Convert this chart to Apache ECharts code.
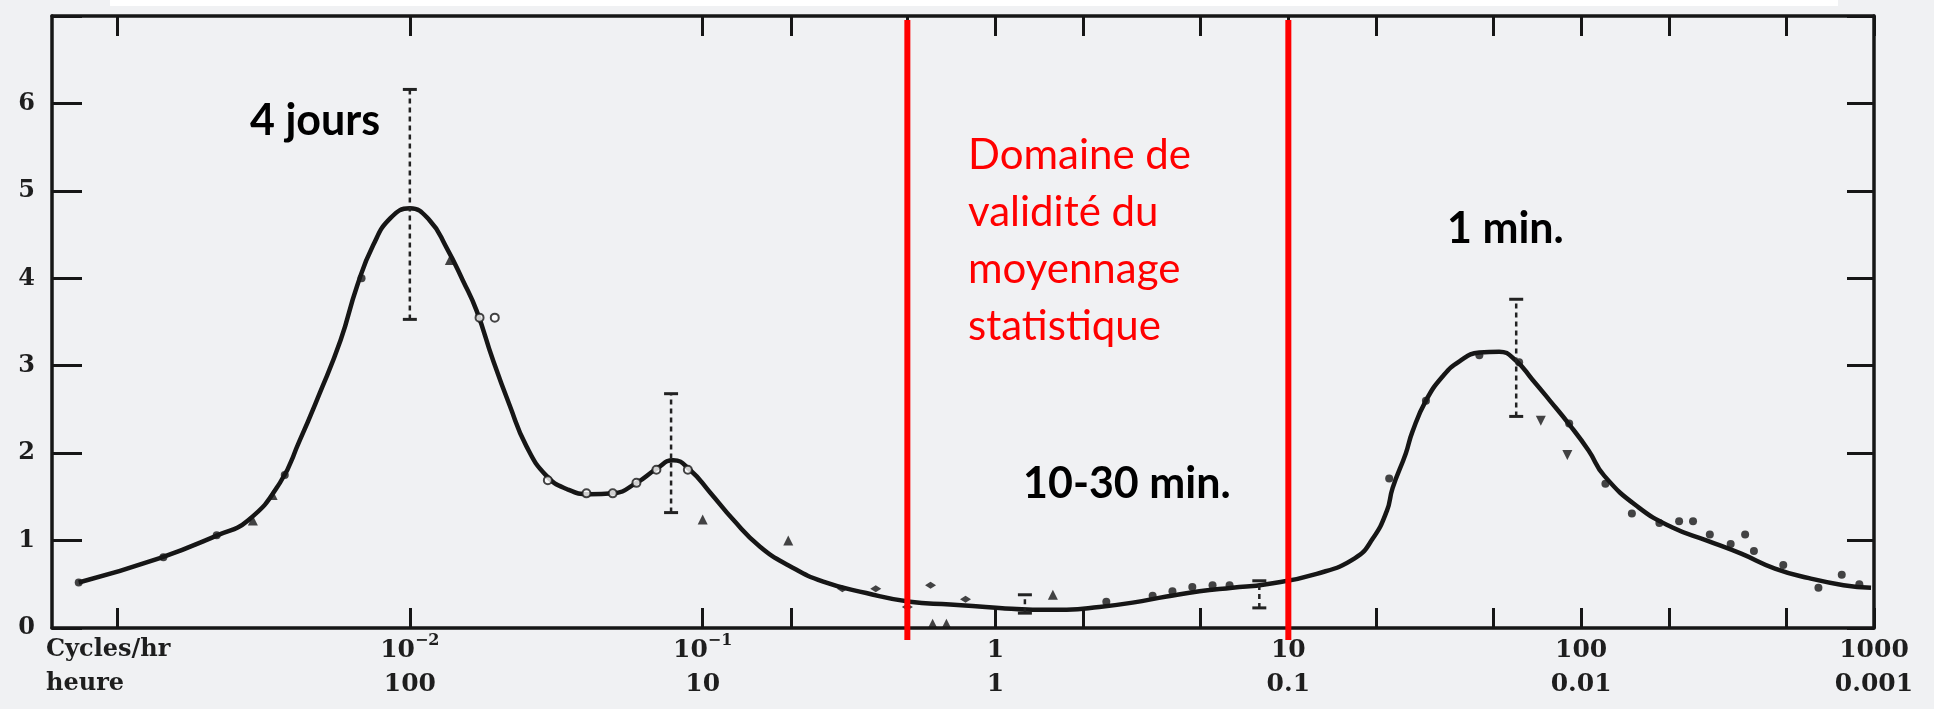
<!DOCTYPE html>
<html>
<head>
<meta charset="utf-8">
<title>Spectre de la vitesse du vent</title>
<script src="https://cdn.jsdelivr.net/npm/echarts@6/dist/echarts.min.js"></script>
<style>
  html, body { margin: 0; padding: 0; background: #f0f1f3; }
  #chart { width: 1934px; height: 709px; }
</style>
</head>
<body>
<div id="chart"></div>
<script>
// fréquence en cycles/heure
const curveFreq = [0.00074, 0.0014, 0.0022, 0.0028, 0.0036, 0.0042, 0.0049, 0.0058, 0.0066, 0.0075,
  0.0086, 0.010, 0.0117, 0.0133, 0.0152, 0.0169, 0.0192, 0.0219, 0.025, 0.0293,
  0.0343, 0.0411, 0.0494, 0.0594, 0.0695, 0.0793, 0.0904, 0.106, 0.127, 0.157,
  0.198, 0.258, 0.362, 0.51, 0.70, 1.03, 1.34, 1.75, 2.26, 2.94,
  3.84, 4.97, 6.44, 8.41, 12.5, 16.9, 19.4, 21.7, 22.7, 25.2,
  26.5, 29.5, 33.7, 38.4, 44.9, 52.5, 59.8, 68.2, 77.8, 91.0,
  106, 120, 157, 205, 269, 352, 459, 600, 787, 977];
const curveVal = [0.52, 0.80, 1.06, 1.23, 1.66, 2.14, 2.67, 3.29, 3.91, 4.38,
  4.69, 4.80, 4.66, 4.36, 3.97, 3.63, 3.07, 2.55, 2.08, 1.74,
  1.59, 1.53, 1.54, 1.66, 1.82, 1.92, 1.81, 1.55, 1.24, 0.93,
  0.71, 0.53, 0.40, 0.30, 0.27, 0.23, 0.21, 0.21, 0.24, 0.29,
  0.36, 0.42, 0.46, 0.50, 0.62, 0.80, 1.02, 1.34, 1.60, 2.0,
  2.24, 2.6, 2.88, 3.05, 3.15, 3.16, 3.06, 2.84, 2.61, 2.33,
  2.03, 1.74, 1.38, 1.15, 1.00, 0.85, 0.68, 0.57, 0.49, 0.46];

// points de mesure
const dotFreq = [0.00074, 0.00144, 0.00219, 0.00374, 0.00684, 2.39, 3.44, 4.02, 4.70, 5.51, 6.30,
  22.1, 29.5, 44.9, 61.4, 91.0, 121, 149, 185, 216, 241, 275, 324, 363, 389, 490, 646, 776, 891];
const dotVal = [0.52, 0.81, 1.06, 1.75, 4.0, 0.30, 0.37, 0.42, 0.47, 0.49, 0.49,
  1.71, 2.6, 3.12, 3.04, 2.34, 1.65, 1.31, 1.20, 1.22, 1.22, 1.07, 0.96, 1.07, 0.88, 0.72, 0.46, 0.61, 0.50];
const triFreq = [0.00291, 0.0034, 0.0137, 0.100, 0.196, 0.61, 0.68, 1.57];
const triVal = [1.23, 1.52, 4.21, 1.24, 1.0, 0.05, 0.05, 0.38];
const triDownFreq = [72.8, 89.7];
const triDownVal = [2.37, 1.98];
const ringFreq = [0.0173, 0.0195, 0.0296, 0.0401, 0.0493, 0.0594, 0.0695, 0.089];
const ringVal = [3.55, 3.55, 1.69, 1.54, 1.54, 1.66, 1.81, 1.81];
const crossFreq = [0.30, 0.39, 0.60, 0.50, 0.79];
const crossVal = [0.45, 0.45, 0.49, 0.24, 0.33];

// barres d'erreur
const errFreq = [0.01, 0.078, 60, 1.26, 7.96];
const errLo = [3.53, 1.32, 2.42, 0.17, 0.23];
const errHi = [6.16, 2.68, 3.76, 0.38, 0.54];

// axes
const tickFreq = [0.001, 0.01, 0.1, 0.2, 0.5, 1, 2, 5, 10, 20, 50, 100, 200, 500, 1000];
const labelFreq = [0.001, 0.01, 0.1, 1, 10, 100, 1000];
const labelTop = ['{c|Cycles/hr}', '{n|10}{s|\u22122}', '{n|10}{s|\u22121}', '{n|1}', '{n|10}', '{n|100}', '{n|1000}'];
const labelBottom = ['{c|heure}', '{n|100}', '{n|10}', '{n|1}', '{n|0.1}', '{n|0.01}', '{n|0.001}'];
const yTicks = [0, 1, 2, 3, 4, 5, 6];

// domaine de validité
const redLineFreq = [0.5, 10];

const X_MIN = -3.222, X_MAX = 3;
const Y_MIN = 0, Y_MAX = 7;
const INK = '#161616';
const SERIF = '"DejaVu Serif", serif';
const SANS = 'Lato, "Open Sans", sans-serif';

const lg = f => Math.log10(f);
const pairs = (xs, ys) => xs.map((f, i) => [lg(f), ys[i]]);

const chart = echarts.init(document.getElementById('chart'));

const labelRich = {
  n: { fontFamily: SERIF, fontWeight: 'bold', fontSize: 25, lineHeight: 34, color: '#1e1e1e' },
  s: { fontFamily: SERIF, fontWeight: 'bold', fontSize: 16, lineHeight: 20, verticalAlign: 'top', color: '#1e1e1e' },
  c: { fontFamily: SERIF, fontWeight: 'bold', fontSize: 24, lineHeight: 34, color: '#1e1e1e', width: 142, align: 'left' }
};

const xLabel = v => {
  const i = labelFreq.findIndex(f => Math.abs(lg(f) - v) < 1e-6);
  return i < 0 ? '' : labelTop[i] + '\n' + labelBottom[i];
};

const axisLineStyle = { color: INK, width: 3.5 };

const redLines = redLineFreq.map(f => ({
  type: 'line',
  data: [[lg(f), -0.137], [lg(f), 6.954]],
  symbol: 'none',
  clip: false,
  z: 10,
  lineStyle: { color: '#ff0000', width: 6 },
  silent: true
}));

const scatter = (xs, ys, symbol, size, extra) => Object.assign({
  type: 'scatter',
  data: pairs(xs, ys),
  symbol: symbol,
  symbolSize: size,
  itemStyle: { color: INK },
  z: 4
}, extra || {});

chart.setOption({
  animation: false,
  backgroundColor: '#f0f1f3',
  grid: { left: 52, right: 60, top: 16, bottom: 81 },
  xAxis: [{
    type: 'value', position: 'bottom', min: X_MIN, max: X_MAX,
    axisLine: { show: true, onZero: false, lineStyle: axisLineStyle },
    axisTick: { show: true, inside: true, length: 20, customValues: tickFreq.map(lg), lineStyle: { color: INK, width: 3 } },
    axisLabel: { customValues: labelFreq.map(lg), formatter: xLabel, rich: labelRich, margin: 5, hideOverlap: false },
    splitLine: { show: false }
  }, {
    type: 'value', position: 'top', min: X_MIN, max: X_MAX,
    axisLine: { show: true, onZero: false, lineStyle: axisLineStyle },
    axisTick: { show: true, inside: true, length: 20, customValues: tickFreq.map(lg), lineStyle: { color: INK, width: 3 } },
    axisLabel: { show: false },
    splitLine: { show: false }
  }],
  yAxis: [{
    type: 'value', position: 'left', min: Y_MIN, max: Y_MAX, interval: 1,
    axisLine: { show: true, onZero: false, lineStyle: axisLineStyle },
    axisTick: { show: true, inside: true, length: 30, lineStyle: { color: INK, width: 3 } },
    axisLabel: {
      margin: 17, color: '#1e1e1e', fontFamily: SERIF, fontWeight: 'bold', fontSize: 24,
      formatter: v => (yTicks.indexOf(v) < 0 ? '' : String(v))
    },
    splitLine: { show: false }
  }, {
    type: 'value', position: 'right', min: Y_MIN, max: Y_MAX, interval: 1,
    axisLine: { show: true, onZero: false, lineStyle: axisLineStyle },
    axisTick: { show: true, inside: true, length: 27, lineStyle: { color: INK, width: 3 } },
    axisLabel: { show: false },
    splitLine: { show: false }
  }],
  series: [
    {
      type: 'line',
      data: pairs(curveFreq, curveVal),
      smooth: 0.5,
      symbol: 'none',
      lineStyle: { color: INK, width: 4.5 },
      z: 3
    },
    {
      type: 'custom',
      data: errFreq.map((f, i) => [lg(f), errLo[i], errHi[i]]),
      encode: { x: 0, y: [1, 2] },
      z: 5,
      renderItem: (params, api) => {
        const lo = api.coord([api.value(0), api.value(1)]);
        const hi = api.coord([api.value(0), api.value(2)]);
        const cap = 7;
        return {
          type: 'group',
          children: [
            { type: 'line', shape: { x1: lo[0], y1: lo[1], x2: hi[0], y2: hi[1] },
              style: { stroke: '#222', lineWidth: 2.5, lineDash: [5, 4] } },
            { type: 'line', shape: { x1: hi[0] - cap, y1: hi[1], x2: hi[0] + cap, y2: hi[1] },
              style: { stroke: '#222', lineWidth: 3 } },
            { type: 'line', shape: { x1: lo[0] - cap, y1: lo[1], x2: lo[0] + cap, y2: lo[1] },
              style: { stroke: '#222', lineWidth: 3 } }
          ]
        };
      }
    },
    scatter(dotFreq, dotVal, 'circle', 8),
    scatter(triFreq, triVal, 'triangle', 10),
    scatter(triDownFreq, triDownVal, 'triangle', 10, { symbolRotate: 180 }),
    scatter(ringFreq, ringVal, 'emptyCircle', 8, { itemStyle: { color: INK, borderColor: INK, borderWidth: 2.5 } }),
    scatter(crossFreq, crossVal, 'diamond', [11, 7])
  ].concat(redLines),
  graphic: [
    { type: 'rect', shape: { x: 110, y: 0, width: 1728, height: 6 }, style: { fill: '#ffffff' }, z: -1 },
    { type: 'text', x: 250, y: 121, z: 20,
      style: { text: '4 jours', fontFamily: SANS, fontWeight: 'bold', fontSize: 43, fill: '#000', textVerticalAlign: 'middle' } },
    { type: 'text', x: 1447, y: 229, z: 20,
      style: { text: '1 min.', fontFamily: SANS, fontWeight: 'bold', fontSize: 43, fill: '#000', textVerticalAlign: 'middle' } },
    { type: 'text', x: 1023, y: 484, z: 20,
      style: { text: '10-30 min.', fontFamily: SANS, fontWeight: 'bold', fontSize: 43, fill: '#000', textVerticalAlign: 'middle' } },
    { type: 'text', x: 968, y: 127, z: 20,
      style: { text: 'Domaine de\nvalidité du\nmoyennage\nstatistique', fontFamily: SANS, fontSize: 42, lineHeight: 57, fill: '#ff0000', textVerticalAlign: 'top' } }
  ]
});
</script>
</body>
</html>
